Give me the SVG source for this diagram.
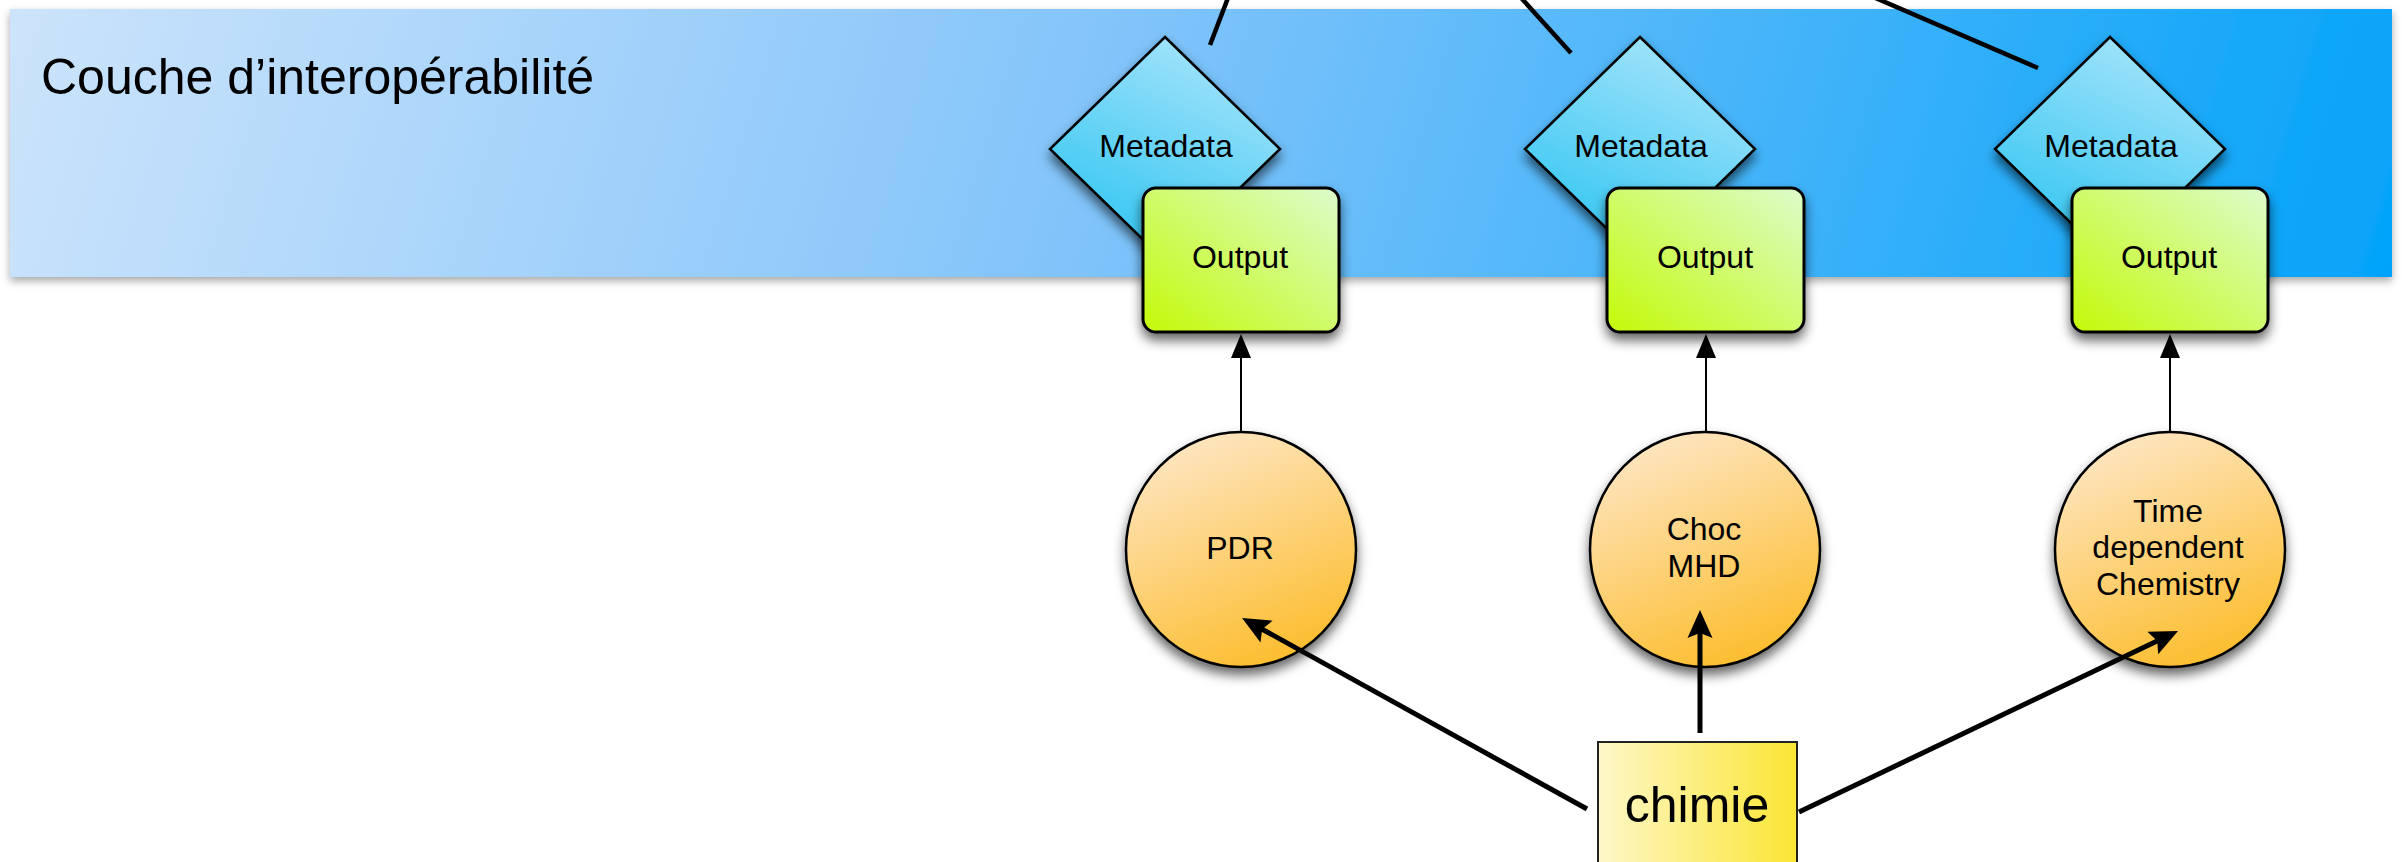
<svg xmlns="http://www.w3.org/2000/svg" width="2402" height="862" viewBox="0 0 2402 862">
  <defs>
    <linearGradient id="gPanel" gradientUnits="userSpaceOnUse" x1="0" y1="0" x2="2300" y2="700">
      <stop offset="0" stop-color="#cde4fb"/>
      <stop offset="0.45" stop-color="#82c4fa"/>
      <stop offset="1" stop-color="#00a2f9"/>
    </linearGradient>
    <linearGradient id="gMeta" x1="0.75" y1="0" x2="0.25" y2="1">
      <stop offset="0" stop-color="#a9e5fb"/>
      <stop offset="1" stop-color="#2cc4f1"/>
    </linearGradient>
    <linearGradient id="gOut" x1="0" y1="1" x2="1" y2="0">
      <stop offset="0" stop-color="#c4fa08"/>
      <stop offset="1" stop-color="#dcfccc"/>
    </linearGradient>
    <linearGradient id="gModel" x1="0.3" y1="0" x2="0.7" y2="1">
      <stop offset="0" stop-color="#fee6c3"/>
      <stop offset="1" stop-color="#fcbc2a"/>
    </linearGradient>
    <linearGradient id="gChem" x1="0" y1="0" x2="1" y2="0">
      <stop offset="0" stop-color="#fdf7c8"/>
      <stop offset="1" stop-color="#fbe635"/>
    </linearGradient>
    <filter id="shPanel" x="-5%" y="-20%" width="110%" height="140%">
      <feDropShadow dx="0" dy="4" stdDeviation="4" flood-color="#000" flood-opacity="0.35"/>
    </filter>
    <filter id="sh" x="-30%" y="-30%" width="160%" height="170%">
      <feDropShadow dx="0" dy="7" stdDeviation="6" flood-color="#000" flood-opacity="0.6"/>
    </filter>
    <marker id="headThin" markerUnits="userSpaceOnUse" orient="auto" refX="0" refY="0" markerWidth="30" markerHeight="30" overflow="visible">
      <path d="M24,0 L0,-10 L0,10 Z" fill="#000"/>
    </marker>
    <marker id="headBold" markerUnits="userSpaceOnUse" orient="auto" refX="0" refY="0" markerWidth="30" markerHeight="30" overflow="visible">
      <path d="M22,0 L-6,-12.5 L-1,0 L-6,12.5 Z" fill="#000"/>
    </marker>
    <style>
      text { font-family: "Liberation Sans", Arial, sans-serif; fill: #000; }
      .lbl { font-size: 32px; text-anchor: middle; }
      .meta { fill: url(#gMeta); stroke: #000; stroke-width: 2.5; filter: url(#sh); }
      .out { fill: url(#gOut); stroke: #000; stroke-width: 3; filter: url(#sh); }
      .model { fill: url(#gModel); stroke: #000; stroke-width: 2.5; filter: url(#sh); }
      .thin { stroke: #000; stroke-width: 2; fill: none; marker-end: url(#headThin); }
      .bold { stroke: #000; stroke-width: 5; fill: none; marker-end: url(#headBold); }
      .up { stroke: #000; stroke-width: 4.5; fill: none; }
    </style>
  </defs>

  <rect width="2402" height="862" fill="#fff"/>

  <!-- interoperability layer -->
  <g id="layer">
    <rect x="10" y="9" width="2382" height="268" fill="url(#gPanel)" filter="url(#shPanel)"/>
    <text x="41" y="94" font-size="50">Couche d’interopérabilité</text>
  </g>

  <!-- links leaving the layer upwards -->
  <g id="links-up">
    <line class="up" x1="1210" y1="45" x2="1231" y2="-10"/>
    <line class="up" x1="1571" y1="53" x2="1514" y2="-10"/>
    <line class="up" x1="2038" y1="68" x2="1857" y2="-10"/>
  </g>

  <g id="meta1">
    <path class="meta" d="M1165,37 L1280,149 L1165,261 L1050,149 Z"/>
    <text class="lbl" x="1166" y="157">Metadata</text>
  </g>
  <g id="meta2">
    <path class="meta" d="M1640,37 L1755,149 L1640,261 L1525,149 Z"/>
    <text class="lbl" x="1641" y="157">Metadata</text>
  </g>
  <g id="meta3">
    <path class="meta" d="M2110,37 L2225,149 L2110,261 L1995,149 Z"/>
    <text class="lbl" x="2111" y="157">Metadata</text>
  </g>

  <g id="out1">
    <rect class="out" x="1143" y="188" width="196" height="144" rx="13"/>
    <text class="lbl" x="1240" y="268">Output</text>
  </g>
  <g id="out2">
    <rect class="out" x="1607" y="188" width="197" height="144" rx="13"/>
    <text class="lbl" x="1705" y="268">Output</text>
  </g>
  <g id="out3">
    <rect class="out" x="2072" y="188" width="196" height="144" rx="13"/>
    <text class="lbl" x="2169" y="268">Output</text>
  </g>

  <g id="pdr">
    <ellipse class="model" cx="1241" cy="549.5" rx="115" ry="117.5"/>
    <text class="lbl" x="1240" y="559">PDR</text>
  </g>
  <g id="choc">
    <ellipse class="model" cx="1705" cy="549.5" rx="115" ry="117.5"/>
    <text class="lbl" x="1704" y="540">Choc</text>
    <text class="lbl" x="1704" y="577">MHD</text>
  </g>
  <g id="tdc">
    <ellipse class="model" cx="2170" cy="549.5" rx="115" ry="117.5"/>
    <text class="lbl" x="2168" y="522">Time</text>
    <text class="lbl" x="2168" y="558">dependent</text>
    <text class="lbl" x="2168" y="595">Chemistry</text>
  </g>

  <g id="chimie">
    <rect x="1598" y="742" width="199" height="150" fill="url(#gChem)" stroke="#222" stroke-width="2"/>
    <text x="1697" y="822" font-size="50" text-anchor="middle">chimie</text>
  </g>

  <g id="connectors">
    <line class="thin" x1="1241" y1="432" x2="1241" y2="358"/>
    <line class="thin" x1="1706" y1="432" x2="1706" y2="358"/>
    <line class="thin" x1="2170" y1="432" x2="2170" y2="358"/>
    <line class="bold" x1="1587" y1="809" x2="1261.3" y2="628.7"/>
    <line class="bold" x1="1700" y1="733" x2="1700" y2="632"/>
    <line class="bold" x1="1799" y1="812" x2="2158.2" y2="640.5"/>
  </g>
</svg>
